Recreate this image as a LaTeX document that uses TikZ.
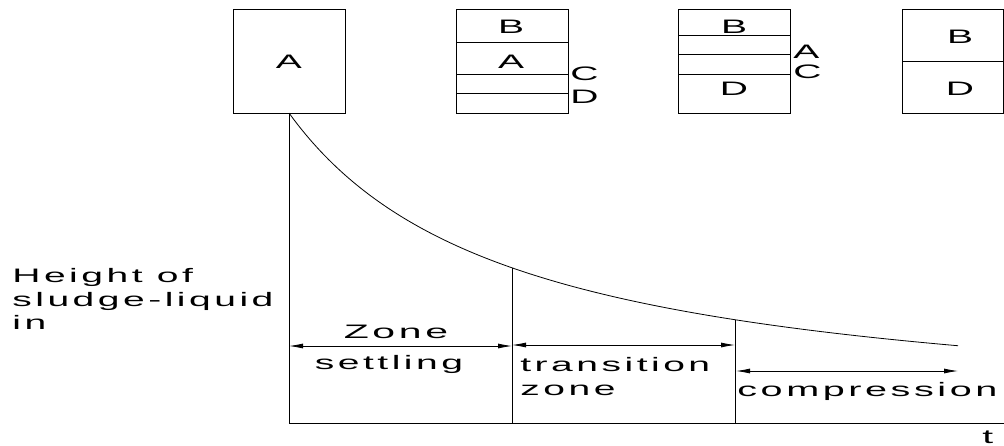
\documentclass[tikz,border=0pt]{standalone}
\usepackage{fontspec}
\usepackage{graphicx}
\setmainfont{Liberation Sans}[LetterSpace=9]
\newcommand{\widetxt}[2][2.0]{\scalebox{#1}[1]{#2}}
\usetikzlibrary{arrows.meta}
\begin{document}
\begin{tikzpicture}[x=1pt,y=-1pt,line width=0.8pt,
  lbl/.style={font=\fontsize{19.5}{22}\selectfont,inner sep=0pt},
  tank/.style={draw,line width=0.8pt,minimum width=112pt,minimum height=104pt,anchor=north west,inner sep=0pt},
  dim/.style={{Latex[length=14pt,width=5pt]}-{Latex[length=14pt,width=5pt]}},
]
\useasboundingbox (0,0) rectangle (1004,445);
% tanks
\node[tank] (b1) at (233,9) {};
\node[tank] (b2) at (456,9) {};
\node[tank] (b3) at (678,9) {};
\node[tank,minimum width=101pt] (b4) at (902,9) {};
\draw (b2.west |- 0,42) -- (b2.east |- 0,42);
\draw (b2.west |- 0,74) -- (b2.east |- 0,74);
\draw (b2.west |- 0,93) -- (b2.east |- 0,93);
\draw (b3.west |- 0,35) -- (b3.east |- 0,35);
\draw (b3.west |- 0,54) -- (b3.east |- 0,54);
\draw (b3.west |- 0,74) -- (b3.east |- 0,74);
\draw (b4.west |- 0,61) -- (b4.east |- 0,61);
% tank labels
\node[lbl,anchor=base] (l1a) at (289,68) {\widetxt{A}};
\node[lbl,anchor=base] (l2b) at (511,33) {\widetxt{B}};
\node[lbl,anchor=base] (l2a) at (511,68) {\widetxt{A}};
\node[lbl,anchor=base west] (l2c) at (570,80) {\widetxt{C}};
\node[lbl,anchor=base west] (l2d) at (570,103) {\widetxt{D}};
\node[lbl,anchor=base] (l3b) at (734,33) {\widetxt{B}};
\node[lbl,anchor=base west] (l3a) at (793,58) {\widetxt{A}};
\node[lbl,anchor=base west] (l3c) at (793,78) {\widetxt{C}};
\node[lbl,anchor=base] (l3d) at (734,95) {\widetxt{D}};
\node[lbl,anchor=base] (l4b) at (960,43) {\widetxt{B}};
\node[lbl,anchor=base] (l4d) at (960,95) {\widetxt{D}};
% axes
\coordinate (top) at (289,113);
\coordinate (O) at (289,423);
\coordinate (xend) at (1004,423);
\draw (top) -- (O) -- (xend);
% settling curve
\draw plot[domain=0:669,samples=120,smooth] ({289+\x},{113+311*(\x/(\x+225))});
\coordinate (c1) at (512,267.8);
\coordinate (c2) at (735,319.7);
\draw (c1) -- (c1 |- O);
\draw (c2) -- (c2 |- O);
% zone arrows
\coordinate (a1l) at (289,346);
\coordinate (a1r) at (512,346);
\coordinate (a2l) at (512,345);
\coordinate (a2r) at (735,345);
\coordinate (a3l) at (736,371);
\coordinate (a3r) at (958,371);
\draw[dim] (a1l) -- (a1r);
\draw[dim] (a2l) -- (a2r);
\draw[dim] (a3l) -- (a3r);
% texts
\node[lbl,anchor=base] (tz) at (396,338) {\widetxt[2.1]{Zone}};
\node[lbl,anchor=base] (ts) at (389,369) {\widetxt{settling}};
\node[lbl,anchor=base west] (tt) at (520,371) {\widetxt{transition}};
\node[lbl,anchor=base west] (tz2) at (520,395) {\widetxt{zone}};
\node[lbl,anchor=base west] (tc) at (737,396) {\widetxt[2.03]{compression}};
\node[lbl,anchor=base west] (tT) at (982,443) {\widetxt{t}};
\node[lbl,anchor=base west] (h1) at (12,282) {\widetxt{Height of}};
\node[lbl,anchor=base west] (h2) at (12,306) {\widetxt{sludge-liquid}};
\node[lbl,anchor=base west] (h3) at (12,329) {\widetxt{in}};
\end{tikzpicture}
\end{document}
